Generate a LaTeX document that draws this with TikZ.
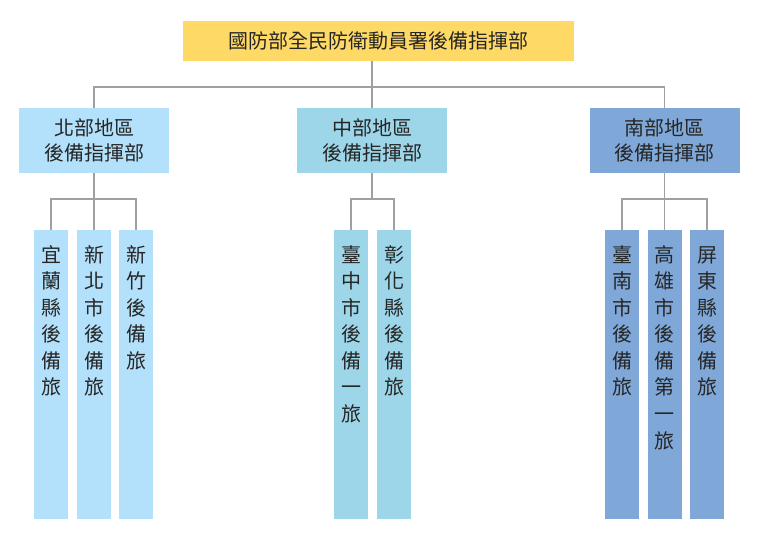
\documentclass[tikz,border=0pt]{standalone}
\usepackage{fontspec}
\newfontfamily\cjk{Noto Sans CJK TC}
\definecolor{hqyellow}{HTML}{FFD966}
\definecolor{northblue}{HTML}{B3E0FA}
\definecolor{centralblue}{HTML}{9DD6E9}
\definecolor{southblue}{HTML}{7FA8D8}
\definecolor{linegray}{HTML}{A0A0A0}
\tikzset{
  box/.style={inner sep=0pt, outer sep=0pt, font=\cjk\fontsize{20}{25}\selectfont, text=black!85, align=center},
  hq/.style={box, fill=hqyellow, minimum width=391pt, minimum height=40pt},
  region/.style={box, minimum width=150pt, minimum height=65pt},
  brigade/.style={box, anchor=north, minimum width=34pt, minimum height=289pt},
  link/.style={draw=linegray, line width=1.5pt}
}
\newcommand{\brig}[1]{\parbox[t][289pt][t]{34pt}{\centering\fontsize{20}{26.6}\selectfont\rule{0pt}{32pt}#1}}

\begin{document}
\begin{tikzpicture}[x=1pt,y=-1pt]
    \useasboundingbox (0,0) rectangle (758,540);
    \node[hq] (hq) at (378.5,41) {國防部全民防衛動員署後備指揮部};
    \node[region, fill=northblue] (north) at (94,140.5) {北部地區\\後備指揮部};
    \node[region, fill=centralblue] (central) at (372,140.5) {中部地區\\後備指揮部};
    \node[region, fill=southblue] (south) at (664.5,140.5) {南部地區\\後備指揮部};
    % brigades
    \node[brigade, fill=northblue] (yilan) at (51,230) {\brig{宜\\蘭\\縣\\後\\備\\旅}};
    \node[brigade, fill=northblue] (xinbei) at (94,230) {\brig{新\\北\\市\\後\\備\\旅}};
    \node[brigade, fill=northblue] (xinzhu) at (136,230) {\brig{新\\竹\\後\\備\\旅}};
    \node[brigade, fill=centralblue] (taizhong) at (351,230) {\brig{臺\\中\\市\\後\\備\\一\\旅}};
    \node[brigade, fill=centralblue] (zhanghua) at (394,230) {\brig{彰\\化\\縣\\後\\備\\旅}};
    \node[brigade, fill=southblue] (tainan) at (622,230) {\brig{臺\\南\\市\\後\\備\\旅}};
    \node[brigade, fill=southblue] (gaoxiong) at (664.5,230) {\brig{高\\雄\\市\\後\\備\\第\\一\\旅}};
    \node[brigade, fill=southblue] (pingdong) at (707,230) {\brig{屏\\東\\縣\\後\\備\\旅}};
    % links
    \draw[link] (central.north) -- (central.north |- hq.south);
    \draw[link] (north.north) -- ++(0,-21) -| (south.north);
    \draw[link] (north.south) -- (xinbei.north);
    \draw[link] (yilan.north) -- ++(0,-31) -| (xinzhu.north);
    \draw[link] (central.south) -- ++(0,26);
    \draw[link] (taizhong.north) -- ++(0,-31) -| (zhanghua.north);
    \draw[link] (south.south) -- (gaoxiong.north);
    \draw[link] (tainan.north) -- ++(0,-31) -| (pingdong.north);
\end{tikzpicture}
\end{document}
